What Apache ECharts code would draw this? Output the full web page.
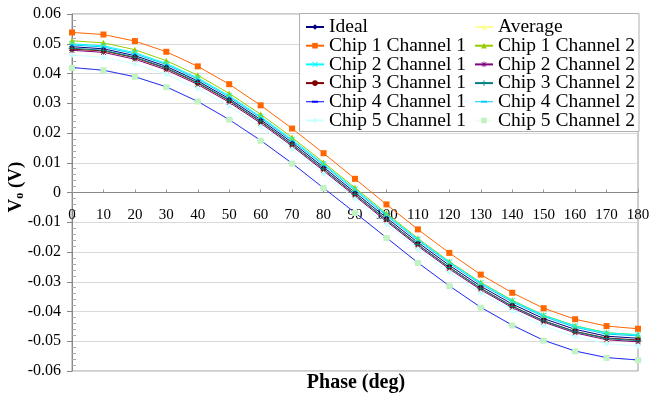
<!DOCTYPE html>
<html>
<head>
<meta charset="utf-8">
<script src="https://cdn.jsdelivr.net/npm/echarts@6/dist/echarts.min.js"></script>
<style>
  html, body { margin: 0; padding: 0; background: #fff; }
  #chart { width: 649px; height: 396px; }
</style>
</head>
<body>
<div id="chart"></div>
<script>
const phase = [0, 10, 20, 30, 40, 50, 60, 70, 80, 90, 100, 110, 120, 130, 140, 150, 160, 170, 180]

const ideal = [0.0490, 0.0483, 0.0460, 0.0424, 0.0375, 0.0315, 0.0245, 0.0168, 0.0085, 0.0000, -0.0085, -0.0168, -0.0245, -0.0315, -0.0375, -0.0424, -0.0460, -0.0483, -0.0490]
const average = [0.0482, 0.0475, 0.0452, 0.0416, 0.0367, 0.0307, 0.0237, 0.0160, 0.0077, -0.0009, -0.0094, -0.0177, -0.0254, -0.0324, -0.0384, -0.0433, -0.0469, -0.0492, -0.0499]
const chip1ch1 = [0.0538, 0.0531, 0.0509, 0.0473, 0.0424, 0.0364, 0.0293, 0.0215, 0.0132, 0.0046, -0.0040, -0.0124, -0.0203, -0.0276, -0.0337, -0.0389, -0.0426, -0.0449, -0.0458]
const chip1ch2 = [0.0510, 0.0503, 0.0480, 0.0443, 0.0394, 0.0333, 0.0263, 0.0185, 0.0101, 0.0016, -0.0070, -0.0154, -0.0232, -0.0302, -0.0362, -0.0412, -0.0448, -0.0471, -0.0478]
const chip2ch1 = [0.0500, 0.0493, 0.0470, 0.0434, 0.0385, 0.0325, 0.0255, 0.0178, 0.0096, 0.0011, -0.0074, -0.0157, -0.0234, -0.0304, -0.0364, -0.0413, -0.0449, -0.0472, -0.0478]
const chip2ch2 = [0.0478, 0.0471, 0.0448, 0.0412, 0.0363, 0.0303, 0.0233, 0.0156, 0.0073, -0.0012, -0.0097, -0.0180, -0.0257, -0.0327, -0.0387, -0.0436, -0.0472, -0.0495, -0.0502]
const chip3ch1 = [0.0482, 0.0476, 0.0453, 0.0417, 0.0368, 0.0308, 0.0238, 0.0161, 0.0078, -0.0007, -0.0092, -0.0175, -0.0252, -0.0322, -0.0382, -0.0431, -0.0467, -0.0489, -0.0496]
const chip3ch2 = [0.0485, 0.0478, 0.0455, 0.0419, 0.0370, 0.0310, 0.0240, 0.0162, 0.0079, -0.0006, -0.0092, -0.0175, -0.0252, -0.0322, -0.0383, -0.0432, -0.0468, -0.0491, -0.0498]
const chip4ch1 = [0.0420, 0.0411, 0.0389, 0.0355, 0.0306, 0.0245, 0.0175, 0.0098, 0.0015, -0.0068, -0.0152, -0.0236, -0.0314, -0.0386, -0.0446, -0.0497, -0.0533, -0.0555, -0.0563]
const chip4ch2 = [0.0496, 0.0489, 0.0466, 0.0430, 0.0381, 0.0321, 0.0251, 0.0174, 0.0092, 0.0007, -0.0078, -0.0161, -0.0238, -0.0308, -0.0368, -0.0417, -0.0453, -0.0476, -0.0482]
const chip5ch1 = [0.0462, 0.0454, 0.0432, 0.0397, 0.0349, 0.0290, 0.0221, 0.0145, 0.0063, -0.0022, -0.0107, -0.0190, -0.0268, -0.0338, -0.0398, -0.0448, -0.0485, -0.0508, -0.0516]
const chip5ch2 = [0.0419, 0.0411, 0.0389, 0.0354, 0.0306, 0.0245, 0.0174, 0.0097, 0.0015, -0.0069, -0.0153, -0.0237, -0.0315, -0.0387, -0.0447, -0.0498, -0.0534, -0.0556, -0.0564]

const FONT = 'Liberation Serif'
const CROSS = 'path://M0,1L1,0L5,4L9,0L10,1L6,5L10,9L9,10L5,6L1,10L0,9L4,5Z'
const PLUS = 'path://M4.3,0H5.7V4.3H10V5.7H5.7V10H4.3V5.7H0V4.3H4.3Z'
const STAR = 'path://M4.4,0H5.6V3.6L8.6,0.6L9.4,1.4L6.4,4.4H10V5.6H6.4L9.4,8.6L8.6,9.4L5.6,6.4V10H4.4V6.4L1.4,9.4L0.6,8.6L3.6,5.6H0V4.4H3.6L0.6,1.4L1.4,0.6L4.4,3.6Z'
const DASH = 'path://M0,0H10V2H0Z'
// legend icon for the dash-marker series: a plain line with a short thicker dash in the middle
const DASH_ICON = 'path://M0,0H18V0.01H0ZM0,3H18V4H0ZM6,2.5H12V4.5H6ZM0,6.99H18V7H0Z'

// name, values, colour, marker, marker size, z, line opacity
const seriesDefs = [
  ['Ideal', ideal, '#000080', 'diamond', 6, 2, 1],
  ['Average', average, '#ffff99', 'triangle', 6, 2, 1],
  ['Chip 1 Channel 1', chip1ch1, '#ff6600', 'rect', 6, 2, 1],
  ['Chip 1 Channel 2', chip1ch2, '#99cc00', 'triangle', 6, 2, 1],
  ['Chip 2 Channel 1', chip2ch1, '#00ffff', CROSS, 6, 2, 1],
  ['Chip 2 Channel 2', chip2ch2, '#800080', STAR, 6, 2, 1],
  ['Chip 3 Channel 1', chip3ch1, '#800000', 'circle', 5, 2, 1],
  ['Chip 3 Channel 2', chip3ch2, '#008080', PLUS, 7, 2, 1],
  ['Chip 4 Channel 1', chip4ch1, '#0000ff', DASH, [7, 1.5], 2, 1],
  ['Chip 4 Channel 2', chip4ch2, '#00ccff', DASH, [7, 1.5], 2, 1],
  ['Chip 5 Channel 1', chip5ch1, '#ccffff', 'diamond', 6, 2, 1],
  // sits on top of Chip 4 Channel 1; its line is faint so the blue line shows through
  ['Chip 5 Channel 2', chip5ch2, '#c2f4c2', 'rect', 6, 3, 0.25]
]

const legendLeft = ['Ideal', 'Chip 1 Channel 1', 'Chip 2 Channel 1', 'Chip 3 Channel 1', 'Chip 4 Channel 1', 'Chip 5 Channel 1']
const legendRight = ['Average', 'Chip 1 Channel 2', 'Chip 2 Channel 2', 'Chip 3 Channel 2', 'Chip 4 Channel 2', 'Chip 5 Channel 2']

const legendItem = name => (name.startsWith('Chip 4') ? { name, icon: DASH_ICON } : name)

const legendBase = {
  orient: 'vertical',
  top: 17,
  itemGap: -1.3,
  itemWidth: 18,
  itemHeight: 7,
  padding: 0,
  z: 5,
  textStyle: { fontFamily: FONT, fontSize: 19.5, lineHeight: 18.7, color: '#000' }
}

const option = {
  animation: false,
  grid: {
    left: 72,
    right: 11,
    top: 14,
    bottom: 25,
    outerBoundsMode: 'none',
    show: true,
    borderColor: '#9a9a9a',
    borderWidth: 1
  },
  graphic: [{
    type: 'rect',
    z: 4.5,
    shape: { x: 299.5, y: 13.5, width: 339.5, height: 118 },
    style: { fill: '#fff', stroke: '#b0b0b0', lineWidth: 1 }
  }, {
    type: 'text',
    z: 3,
    x: 356,
    y: 383,
    style: {
      text: 'Phase (deg)', fontFamily: FONT, fontSize: 20, fontWeight: 'bold',
      fill: '#000', align: 'center', verticalAlign: 'middle'
    }
  }, {
    type: 'text',
    z: 3,
    x: 16,
    y: 187,
    rotation: Math.PI / 2,
    style: {
      text: '{b|V}{s|o}{b| (V)}',
      align: 'center',
      verticalAlign: 'middle',
      rich: {
        b: { fontFamily: FONT, fontSize: 19, fontWeight: 'bold', fill: '#000' },
        s: { fontFamily: FONT, fontSize: 12, fontWeight: 'bold', fill: '#000', verticalAlign: 'bottom', padding: [8, 0, 0, 0] }
      }
    }
  }],
  legend: [
    { ...legendBase, left: 305, data: legendLeft.map(legendItem) },
    { ...legendBase, left: 474, data: legendRight.map(legendItem) }
  ],
  xAxis: {
    type: 'value',
    min: 0,
    max: 180,
    interval: 10,
    position: 'bottom',
    offset: -178.5,
    axisLine: { onZero: false, lineStyle: { color: '#888', width: 1 } },
    axisTick: { show: true, inside: true, length: 3, lineStyle: { color: '#999' } },
    axisLabel: { fontFamily: FONT, fontSize: 15, color: '#000', margin: 15, showMaxLabel: true, showMinLabel: true },
    splitLine: { show: false }
  },
  yAxis: [{
    type: 'value',
    min: -0.06,
    max: 0.06,
    interval: 0.01,
    axisLine: { show: true, onZero: false, lineStyle: { color: '#888', width: 1 } },
    axisTick: { show: true, length: 5, lineStyle: { color: '#888' } },
    axisLabel: {
      fontFamily: FONT, fontSize: 16, color: '#000', margin: 11,
      formatter: v => (Math.abs(v) < 1e-9 ? '0' : v.toFixed(2))
    },
    splitLine: { show: true, lineStyle: { color: '#d9d9d9', width: 1 } }
  }, {
    type: 'value',
    min: -0.06,
    max: 0.06,
    interval: 0.01,
    position: 'left',
    axisLine: { show: false, onZero: false },
    axisTick: { show: false, inside: true },
    minorTick: { show: true, splitNumber: 5, length: 4, lineStyle: { color: '#aaa' } },
    axisLabel: { show: false },
    splitLine: { show: false }
  }],
  series: seriesDefs.map(([name, vals, color, symbol, size, z, lineOpacity]) => ({
    name,
    type: 'line',
    z,
    data: phase.map((p, i) => [p, vals[i]]),
    symbol,
    symbolSize: size,
    symbolKeepAspect: true,
    showSymbol: true,
    lineStyle: { color, width: 1, opacity: lineOpacity },
    itemStyle: { color, borderWidth: 0 },
    emphasis: { disabled: true }
  }))
}

const chart = echarts.init(document.getElementById('chart'))
chart.setOption(option)
</script>
</body>
</html>
